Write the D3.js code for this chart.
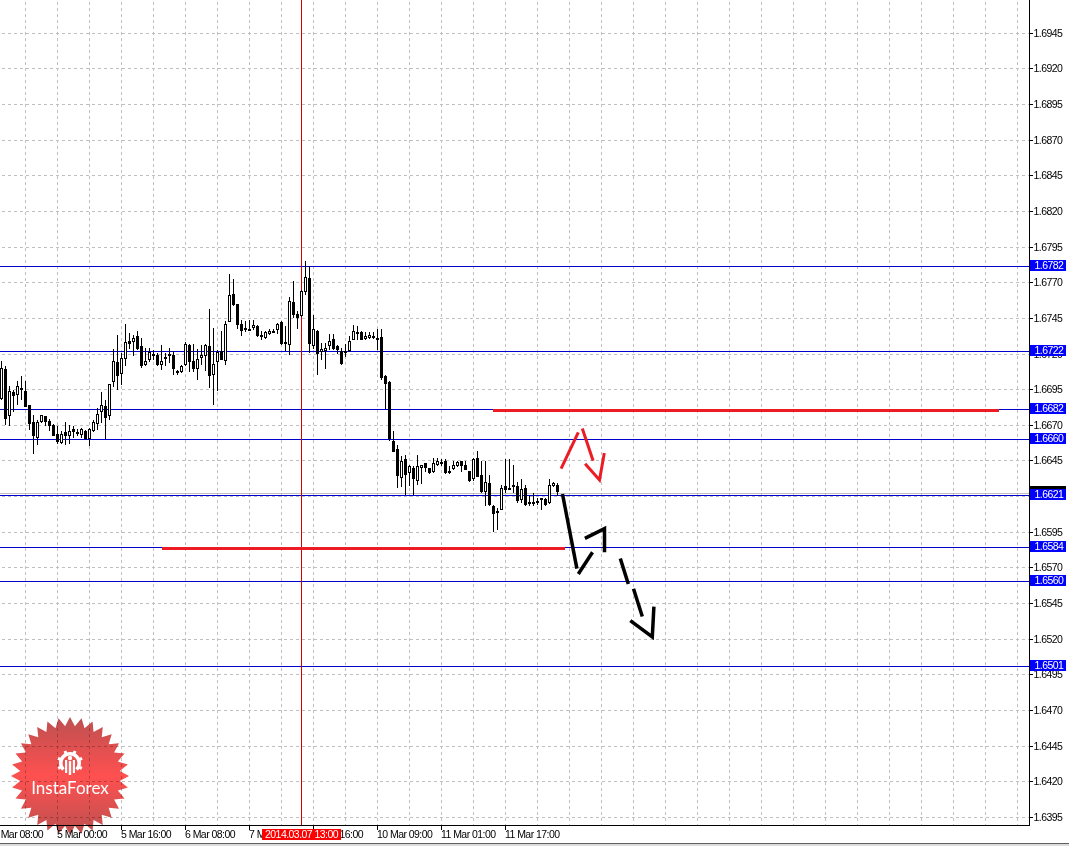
<!DOCTYPE html>
<html>
<head>
<meta charset="utf-8">
<script src="https://cdn.jsdelivr.net/npm/d3@7"></script>
<style>
html, body { margin: 0; padding: 0; background: #fff; overflow: hidden; }
svg { display: block; }
text { font-family: "Liberation Sans", sans-serif; font-size: 10.5px; letter-spacing: -0.55px; fill: #000; }
</style>
</head>
<body>
<div id="chart"></div>
<script>
const opens = [
    1.66887,1.67097,1.66763,1.66931,1.66910,1.66962,1.66941,1.66843,1.66723,1.66609,
    1.66726,1.66765,1.66730,1.66702,1.66639,1.66574,1.66655,1.66627,1.66674,1.66637,
    1.66634,1.66660,1.66604,1.66658,1.66707,1.66791,1.66838,1.66763,1.67001,1.67144,
    1.67058,1.67163,1.67291,1.67282,1.67326,1.67256,1.67121,1.67160,1.67200,1.67196,
    1.67125,1.67177,1.67184,1.67193,1.67081,1.67072,1.67121,1.67266,1.67151,1.67095,
    1.67172,1.67186,1.67259,1.67053,1.67142,1.67219,1.67151,1.67425,1.67621,1.67551,
    1.67411,1.67380,1.67378,1.67380,1.67399,1.67333,1.67310,1.67340,1.67364,1.67371,
    1.67427,1.67284,1.67261,1.67565,1.67481,1.67464,1.67633,1.67733,1.67259,1.67364,
    1.67212,1.67224,1.67254,1.67305,1.67256,1.67221,1.67219,1.67221,1.67301,1.67354,
    1.67354,1.67308,1.67312,1.67326,1.67315,1.67319,1.67048,1.67006,1.66592,1.66534,
    1.66331,1.66464,1.66366,1.66403,1.66307,1.66401,1.66436,1.66403,1.66370,1.66422,
    1.66445,1.66452,1.66382,1.66391,1.66412,1.66452,1.66424,1.66382,1.66324,1.66473,
    1.66354,1.66235,1.66298,1.66137,1.66101,1.66108,1.66277,1.66263,1.66284,1.66277,
    1.66179,1.66263,1.66162,1.66165,1.66167,1.66190,1.66186,1.66153,1.66272,1.66284
];
const highs = [
    1.67149,1.67114,1.66978,1.66950,1.67013,1.67048,1.67008,1.66843,1.66775,1.66740,
    1.66775,1.66768,1.66744,1.66712,1.66693,1.66658,1.66723,1.66705,1.66693,1.66674,
    1.66681,1.66670,1.66681,1.66735,1.66819,1.66931,1.66880,1.66990,1.67235,1.67336,
    1.67207,1.67413,1.67347,1.67333,1.67364,1.67312,1.67242,1.67242,1.67231,1.67207,
    1.67266,1.67207,1.67242,1.67219,1.67090,1.67125,1.67284,1.67273,1.67273,1.67235,
    1.67266,1.67270,1.67516,1.67383,1.67231,1.67364,1.67429,1.67764,1.67726,1.67551,
    1.67441,1.67429,1.67436,1.67441,1.67406,1.67364,1.67364,1.67376,1.67376,1.67418,
    1.67432,1.67394,1.67600,1.67715,1.67499,1.67647,1.67855,1.67815,1.67476,1.67371,
    1.67277,1.67277,1.67340,1.67340,1.67266,1.67242,1.67273,1.67329,1.67406,1.67394,
    1.67364,1.67354,1.67354,1.67354,1.67376,1.67376,1.67055,1.67011,1.66663,1.66564,
    1.66487,1.66494,1.66424,1.66417,1.66494,1.66424,1.66436,1.66403,1.66471,1.66471,
    1.66464,1.66464,1.66417,1.66452,1.66452,1.66452,1.66452,1.66382,1.66471,1.66522,
    1.66452,1.66447,1.66354,1.66144,1.66120,1.66284,1.66464,1.66464,1.66424,1.66300,
    1.66326,1.66284,1.66207,1.66225,1.66190,1.66190,1.66190,1.66326,1.66302,1.66295
];
const lows = [
    1.66880,1.66705,1.66693,1.66791,1.66840,1.66880,1.66828,1.66670,1.66501,1.66560,
    1.66716,1.66693,1.66658,1.66623,1.66571,1.66571,1.66560,1.66571,1.66611,1.66627,
    1.66611,1.66604,1.66557,1.66651,1.66670,1.66716,1.66604,1.66740,1.66969,1.66950,
    1.66985,1.67118,1.67235,1.67188,1.67231,1.67102,1.67118,1.67144,1.67160,1.67118,
    1.67090,1.67118,1.67137,1.67055,1.67055,1.67067,1.67114,1.67076,1.67072,1.67020,
    1.67125,1.67079,1.66959,1.66840,1.66938,1.67160,1.67125,1.67422,1.67539,1.67378,
    1.67329,1.67352,1.67359,1.67371,1.67319,1.67301,1.67305,1.67333,1.67347,1.67343,
    1.67263,1.67219,1.67196,1.67453,1.67378,1.67460,1.67616,1.67207,1.67235,1.67055,
    1.67160,1.67095,1.67231,1.67231,1.67203,1.67125,1.67179,1.67217,1.67296,1.67301,
    1.67296,1.67296,1.67308,1.67305,1.67231,1.67020,1.66815,1.66588,1.66511,1.66258,
    1.66265,1.66209,1.66272,1.66209,1.66279,1.66291,1.66370,1.66361,1.66366,1.66417,
    1.66412,1.66361,1.66361,1.66387,1.66408,1.66370,1.66387,1.66305,1.66307,1.66335,
    1.66225,1.66137,1.66134,1.65949,1.65968,1.66104,1.66225,1.66253,1.66225,1.66155,
    1.66155,1.66137,1.66137,1.66132,1.66144,1.66108,1.66132,1.66151,1.66267,1.66202
];
const closes = [
    1.67102,1.66747,1.66941,1.66903,1.66976,1.66952,1.66831,1.66707,1.66623,1.66723,
    1.66772,1.66723,1.66693,1.66627,1.66581,1.66639,1.66623,1.66660,1.66651,1.66653,
    1.66674,1.66604,1.66676,1.66726,1.66782,1.66843,1.66749,1.66990,1.67153,1.67048,
    1.67174,1.67284,1.67268,1.67315,1.67238,1.67114,1.67153,1.67217,1.67196,1.67121,
    1.67153,1.67165,1.67200,1.67093,1.67076,1.67118,1.67270,1.67142,1.67097,1.67165,
    1.67193,1.67263,1.67044,1.67130,1.67217,1.67160,1.67411,1.67614,1.67542,1.67401,
    1.67359,1.67371,1.67371,1.67404,1.67324,1.67324,1.67357,1.67362,1.67352,1.67408,
    1.67268,1.67268,1.67572,1.67471,1.67453,1.67642,1.67740,1.67268,1.67376,1.67198,
    1.67235,1.67242,1.67291,1.67238,1.67231,1.67128,1.67212,1.67291,1.67362,1.67338,
    1.67301,1.67326,1.67333,1.67310,1.67303,1.67030,1.66988,1.66604,1.66515,1.66342,
    1.66450,1.66349,1.66415,1.66321,1.66415,1.66424,1.66398,1.66363,1.66436,1.66450,
    1.66440,1.66363,1.66373,1.66424,1.66445,1.66412,1.66389,1.66307,1.66464,1.66340,
    1.66230,1.66303,1.66139,1.66080,1.66090,1.66260,1.66249,1.66258,1.66272,1.66167,
    1.66253,1.66139,1.66155,1.66158,1.66160,1.66181,1.66139,1.66281,1.66295,1.66232
];

// price axis
const priceTicks = [1.6945,1.6920,1.6895,1.6870,1.6845,1.6820,1.6795,1.6770,1.6745,1.6720,1.6695,1.6670,
    1.6645,1.6620,1.6595,1.6570,1.6545,1.6520,1.6495,1.6470,1.6445,1.6420,1.6395];

// time axis, positions are bar numbers
const timeBars = [-2,14,30,46,62,78,94,110,126];
const timeLabels = ["4 Mar 08:00","5 Mar 00:00","5 Mar 16:00","6 Mar 08:00","7 Mar 00:00","7 Mar 16:00","10 Mar 09:00","11 Mar 01:00","11 Mar 17:00"];
const gridBars = d3.range(6, 255, 8);

// horizontal levels
const levelPrices = [1.67815,1.6722,1.6681,1.6660,1.6621,1.6584,1.65605,1.6501];
const levelLabels = ["1.6782","1.6722","1.6682","1.6660","1.6621","1.6584","1.6560","1.6501"];
const bidPrice = 1.66222;

const crosshairBar = 75;
const crosshairLabel = "2014.03.07 13:00";

// hand drawn marks: [bar, price]
const redLevels = [
    [[122.9,1.66802],[249.4,1.66802]],
    [[40.2,1.65835],[140.9,1.65835]]
];
const redArrows = [
    [[139.9,1.66396],[144.2,1.66651]],
    [[145.2,1.66677],[147.9,1.66452]],
    [[145.9,1.66431],[149.5,1.66317],[150.7,1.66506]]
];
const blackArrows = [
    [[140.25,1.66218],[143.85,1.65694]],
    [[144.2,1.65657],[147.75,1.65809]],
    [[145.85,1.65907],[150.75,1.65975],[150.75,1.65809]],
    [[154.7,1.65765],[156.7,1.65587]],
    [[158,1.65554],[160.2,1.65358]],
    [[157.2,1.6533],[162.7,1.65215],[163.1,1.65428]]
];

const width = 1069, height = 846;
const axisX = 1029, axisY = 825;

const svg = d3.select("#chart").append("svg")
    .attr("width", width)
    .attr("height", height);

const x = d3.scaleLinear().domain([0, 139]).range([1.5, 557.5]);
const y = d3.scaleLinear().domain([1.6395, 1.6945]).range([817.3, 33.3]);
const py = p => Math.floor(y(p)) + 0.5;

svg.append("defs").append("clipPath").attr("id", "plot")
    .append("rect").attr("width", axisX).attr("height", axisY);

// grid
const grid = svg.append("g").attr("stroke", "#c0c0c0").attr("stroke-dasharray", "3,3").attr("shape-rendering", "crispEdges");
grid.selectAll(".gx").data(gridBars).join("line")
    .attr("x1", d => x(d)).attr("x2", d => x(d))
    .attr("y1", 2).attr("y2", axisY);
grid.selectAll(".gy").data(priceTicks).join("line")
    .attr("x1", 2).attr("x2", axisX)
    .attr("y1", py).attr("y2", py);

// levels
const levels = svg.append("g").attr("shape-rendering", "crispEdges");
levels.append("line")
    .attr("x1", 0).attr("x2", axisX)
    .attr("y1", py(bidPrice)).attr("y2", py(bidPrice))
    .attr("stroke", "#c0c0c0");
levels.selectAll("line.level").data(levelPrices).join(enter => enter.append("line").attr("class", "level"))
    .attr("x1", 0).attr("x2", axisX)
    .attr("y1", py).attr("y2", py)
    .attr("stroke", "#0000cd");

// crosshair
svg.append("line")
    .attr("x1", x(crosshairBar)).attr("x2", x(crosshairBar))
    .attr("y1", 0).attr("y2", axisY)
    .attr("stroke", "#d40000")
    .attr("shape-rendering", "crispEdges");

// candles
const candles = opens.map((o, i) => ({ i, o, h: highs[i], l: lows[i], c: closes[i] }));
const candle = svg.append("g").attr("shape-rendering", "crispEdges").selectAll("g")
    .data(candles).join("g");
candle.append("line")
    .attr("x1", d => x(d.i)).attr("x2", d => x(d.i))
    .attr("y1", d => Math.round(y(d.h))).attr("y2", d => Math.round(y(d.l)))
    .attr("stroke", "#000");
candle.append("rect")
    .attr("x", d => x(d.i) - 1)
    .attr("width", 2)
    .attr("y", d => Math.round(y(Math.max(d.o, d.c))) + 0.5)
    .attr("height", d => Math.max(1, Math.round(y(Math.min(d.o, d.c))) - Math.round(y(Math.max(d.o, d.c))) - 1))
    .attr("fill", d => d.c >= d.o ? "#fff" : "#000")
    .attr("stroke", "#000");

// drawn lines
const pen = d3.line().x(d => x(d[0])).y(d => y(d[1]));
const marks = svg.append("g").attr("fill", "none").attr("stroke-linejoin", "miter").attr("clip-path", "url(#plot)");
marks.selectAll(".red-level").data(redLevels).join(enter => enter.append("path").attr("class", "red-level"))
    .attr("d", pen).attr("stroke", "#ed1c24").attr("stroke-width", 3).attr("shape-rendering", "crispEdges");
marks.selectAll(".red-arrow").data(redArrows).join(enter => enter.append("path").attr("class", "red-arrow"))
    .attr("d", pen).attr("stroke", "#ed1c24").attr("stroke-width", 3);
marks.selectAll(".black-arrow").data(blackArrows).join(enter => enter.append("path").attr("class", "black-arrow"))
    .attr("d", pen).attr("stroke", "#000").attr("stroke-width", 3.5);

// axes
const yAxis = svg.append("g")
    .attr("transform", `translate(${axisX + 0.5},0)`)
    .call(d3.axisRight(y).tickValues(priceTicks).tickFormat(d3.format(".4f")).tickSize(3).tickPadding(1).offset(0));
yAxis.selectAll(".tick").attr("transform", d => `translate(0,${py(d)})`);
yAxis.select(".domain").remove();

const xAxis = svg.append("g")
    .attr("transform", `translate(0,${axisY + 0.5})`)
    .call(d3.axisBottom(x).tickValues(timeBars).tickFormat((d, i) => timeLabels[i]).tickSize(4).tickPadding(0).offset(0));
xAxis.select(".domain").remove();
xAxis.selectAll(".tick text").attr("text-anchor", "start").attr("dx", -0.5).attr("y", 4).attr("dy", "0.8em");
svg.selectAll(".tick line").attr("stroke", "#000").attr("shape-rendering", "crispEdges");
svg.selectAll(".tick text").attr("fill", "#000").attr("font-family", null).attr("font-size", null);

const frame = svg.append("g").attr("stroke", "#000").attr("shape-rendering", "crispEdges");
frame.append("line").attr("x1", axisX + 0.5).attr("x2", axisX + 0.5).attr("y1", 0).attr("y2", axisY + 1);
frame.append("line").attr("x1", 0).attr("x2", axisX + 1).attr("y1", axisY + 0.5).attr("y2", axisY + 0.5);
svg.append("rect").attr("x", 0).attr("y", 843).attr("width", width).attr("height", 1).attr("fill", "#606060");
svg.append("rect").attr("x", 0).attr("y", 844).attr("width", width).attr("height", 2).attr("fill", "#dcdcdc");

// price tags, the black bid tag sits under the blue ones
svg.append("rect")
    .attr("x", axisX + 1).attr("y", Math.floor(y(bidPrice)) - 7)
    .attr("width", 36).attr("height", 11).attr("fill", "#000");
const tag = svg.selectAll(".tag").data(levelPrices).join("g")
    .attr("class", "tag")
    .attr("transform", d => `translate(${axisX + 1},${Math.floor(y(d))})`);
tag.append("rect").attr("y", -6).attr("width", 36).attr("height", 11).attr("fill", "#0000ff");
tag.append("text")
    .attr("x", 4.5).attr("y", -0.5).attr("dy", "0.35em")
    .style("fill", "#fff")
    .text((d, i) => levelLabels[i]);

// crosshair time tag
const timeTag = svg.append("g").attr("transform", `translate(${x(crosshairBar)},829)`);
timeTag.append("rect").attr("x", -39.5).attr("width", 79).attr("height", 11).attr("fill", "#ff0000");
timeTag.append("text").attr("text-anchor", "middle").attr("y", 5.5).attr("dy", "0.35em")
    .style("fill", "#fff").text(crosshairLabel);

// logo
const logoX = 70, logoY = 776;
const defs = svg.select("defs");
const grad = defs.append("linearGradient").attr("id", "burst").attr("x1", 0).attr("x2", 0).attr("y1", 0).attr("y2", 1);
grad.append("stop").attr("offset", "0").attr("stop-color", "#bd5050");
grad.append("stop").attr("offset", "0.5").attr("stop-color", "#ff5050");
grad.append("stop").attr("offset", "1").attr("stop-color", "#bd5050");

const points = d3.range(64).map(i => [i * Math.PI / 32, i % 2 ? 50 : 59]);
const logo = svg.append("g").attr("transform", `translate(${logoX},${logoY})`);
logo.append("path")
    .attr("d", d3.lineRadial().curve(d3.curveLinearClosed)(points))
    .attr("fill", "url(#burst)")
    .style("mix-blend-mode", "multiply");

const gear = logo.append("g").attr("transform", "translate(0,-13)").attr("fill", "#fff");
gear.append("path").attr("d", d3.arc().innerRadius(7.5).outerRadius(11).startAngle(-2.35).endAngle(2.35)());
gear.selectAll("rect").data(d3.range(-2, 2.1, 0.8)).join("rect")
    .attr("x", -1.5).attr("y", -13).attr("width", 3).attr("height", 4)
    .attr("transform", d => `rotate(${d * 180 / Math.PI})`);
gear.append("circle").attr("cy", -5).attr("r", 2.2);
gear.append("rect").attr("x", -1.2).attr("y", -2).attr("width", 2.4).attr("height", 14);
gear.append("rect").attr("x", -5).attr("y", -3).attr("width", 2.2).attr("height", 13);
gear.append("rect").attr("x", 2.8).attr("y", -3).attr("width", 2.2).attr("height", 13);

logo.append("text")
    .attr("text-anchor", "middle").attr("y", 18)
    .style("fill", "#fff")
    .style("font-family", "Lato, sans-serif")
    .style("font-size", "17px")
    .style("letter-spacing", "0")
    .text("InstaForex");
</script>
</body>
</html>
